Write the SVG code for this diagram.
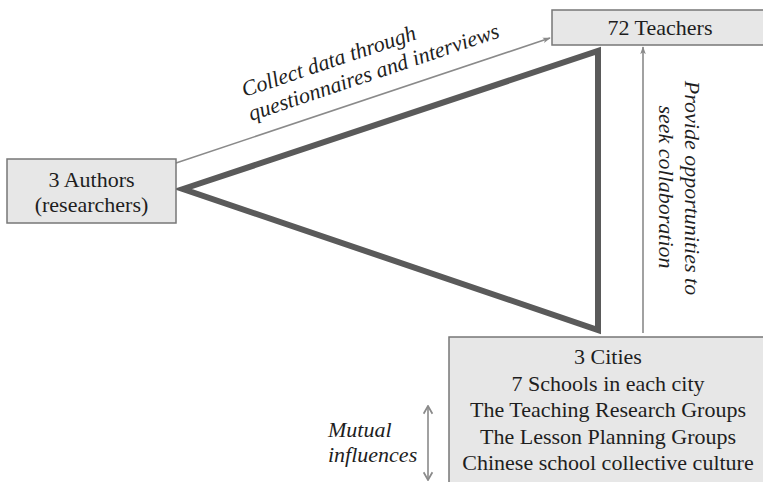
<svg xmlns="http://www.w3.org/2000/svg" width="763" height="482" viewBox="0 0 763 482">
  <style>
    text { font-family: 'Liberation Serif', 'Times New Roman', serif; font-size: 22px; fill: #1e1e1e; }
    .lbl { text-anchor: middle; }
    .it { font-style: italic; }
    .box { fill: #e7e7e7; stroke: #777777; stroke-width: 1.5; }
    .conn { stroke: #8a8a8a; stroke-width: 1.6; fill: none; }
    .tri { fill: none; stroke: #5a5a5a; stroke-width: 6; stroke-linejoin: miter; }
  </style>
  <defs>
    <marker id="arr" viewBox="0 0 10 10" refX="9" refY="5" markerWidth="8" markerHeight="8" orient="auto" markerUnits="userSpaceOnUse">
      <path d="M0,1.5 L10,5 L0,8.5 L2.5,5 Z" fill="#8a8a8a"/>
    </marker>
    <marker id="chev" viewBox="0 0 10 10" refX="9" refY="5" markerWidth="11" markerHeight="11" orient="auto-start-reverse" markerUnits="userSpaceOnUse">
      <path d="M2,1 L9,5 L2,9" fill="none" stroke="#8a8a8a" stroke-width="1.6"/>
    </marker>
  </defs>

  <!-- central triangle linking the three parties -->
  <polygon class="tri" points="183,189 598,51 598,330"/>

  <g id="connectors">
    <line class="conn" x1="176" y1="163" x2="550" y2="38" marker-end="url(#arr)"/>
    <line class="conn" x1="643" y1="333" x2="643" y2="47" marker-end="url(#arr)"/>
    <line class="conn" x1="428" y1="406" x2="428" y2="480" marker-start="url(#chev)" marker-end="url(#chev)"/>
  </g>

  <g id="connector-labels">
    <text class="it lbl" transform="translate(331,68) rotate(-18.6)">Collect data through</text>
    <text class="it lbl" transform="translate(376,79) rotate(-18.6)">questionnaires and interviews</text>
    <text class="it lbl" transform="translate(685,188) rotate(90)">Provide opportunities to</text>
    <text class="it lbl" transform="translate(659,187) rotate(90)">seek collaboration</text>
    <text class="it" x="328" y="437">Mutual</text>
    <text class="it" x="328" y="462">influences</text>
  </g>

  <g id="teachers">
    <rect class="box" x="552" y="10" width="212" height="35"/>
    <text class="lbl" x="660" y="35">72 Teachers</text>
  </g>

  <g id="authors">
    <rect class="box" x="7" y="159" width="169" height="64"/>
    <text class="lbl" x="91.5" y="187">3 Authors</text>
    <text class="lbl" x="91.5" y="212">(researchers)</text>
  </g>

  <g id="cities">
    <rect class="box" x="449" y="337" width="316" height="147"/>
    <text class="lbl" x="608" y="364">3 Cities</text>
    <text class="lbl" x="608" y="391">7 Schools in each city</text>
    <text class="lbl" x="608" y="417">The Teaching Research Groups</text>
    <text class="lbl" x="608" y="444">The Lesson Planning Groups</text>
    <text class="lbl" x="608" y="470">Chinese school collective culture</text>
  </g>
</svg>
